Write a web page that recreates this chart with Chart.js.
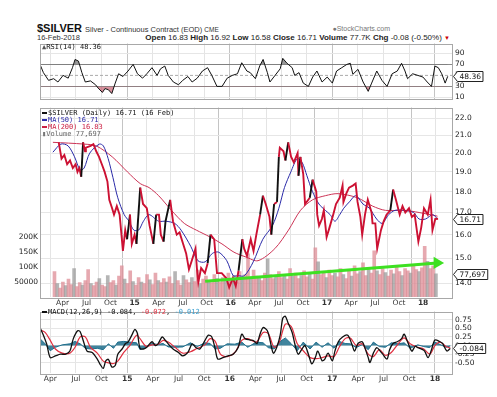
<!DOCTYPE html>
<html>
<head>
<meta charset="utf-8">
<script src="https://cdn.jsdelivr.net/npm/chart.js@4.4.1/dist/chart.umd.min.js"></script>
<style>
  body { margin:0; background:#fff; width:497px; height:397px; position:relative; overflow:hidden; }
  canvas { position:absolute; left:0; }
  .t { position:absolute; white-space:nowrap; color:#111; }
  .lg { position:absolute; white-space:nowrap; font:7px "DejaVu Sans Mono", monospace; color:#111; line-height:7px; }
  .sw { display:inline-block; width:5px; height:2px; vertical-align:middle; margin-right:1px; }
</style>
</head>
<body>
<div class="t" style="left:37px;top:22px;font:bold 11px 'Liberation Sans',Arial">$SILVER <span style="font:normal 7.5px 'Liberation Sans',Arial;color:#333">Silver - Continuous Contract (EOD) <span style="font-size:6.5px">CME</span></span></div>
<div class="t" style="left:37px;top:33px;font:7.5px 'Liberation Sans',Arial;color:#333">16-Feb-2018</div>
<div class="t" style="right:107px;top:25px;font:7px 'Liberation Sans',Arial;color:#777">&#9679;StockCharts.com</div>
<div class="t" style="right:47px;top:33px;font:8px 'Liberation Sans',Arial;color:#222"><b>Open</b> 16.83 <b>High</b> 16.92 <b>Low</b> 16.58 <b>Close</b> 16.71 <b>Volume</b> 77.7K <b>Chg</b> -0.08 (-0.50%) <span style="color:#c00;font-size:6px">&#9660;</span></div>

<canvas id="rsi" width="497" height="70" style="top:36px"></canvas>
<canvas id="main" width="497" height="212" style="top:100px"></canvas>
<canvas id="macd" width="497" height="93" style="top:304px"></canvas>

<div class="lg" style="left:42px;top:44px"><span style="color:#555">&#9650;</span>RSI(14) 48.36</div>
<div class="lg" style="left:42px;top:110px"><span class="sw" style="background:#111"></span>$SILVER (Daily) 16.71 (16 Feb)</div>
<div class="lg" style="left:42px;top:117px;color:#2a2aa8"><span class="sw" style="background:#2a2aa8"></span>MA(50) 16.71</div>
<div class="lg" style="left:42px;top:124px;color:#cc2244"><span class="sw" style="background:#cc2244"></span>MA(200) 16.83</div>
<div class="lg" style="left:42px;top:131px;color:#666"><span style="color:#777">&#9646;</span>Volume 77,697</div>
<div class="lg" style="left:42px;top:309px"><span class="sw" style="background:#111"></span>MACD(12,26,9) -0.084, <span style="color:#e03040">-0.072</span>, <span style="color:#3aa0d0">-0.012</span></div>

<script>
// ---- dados (eixo x em meses desde jan/2014) ----
const xMin = 1.8, xMax = 50;
const quarterTicks = [3,6,9,12,15,18,21,24,27,30,33,36,39,42,45,48];
const monthNames = {3:'Apr', 6:'Jul', 9:'Oct'};

const priceX = [2.53,2.88,3.23,3.58,3.94,4.29,4.64,4.87,5.10,5.34,5.57,5.81,5.92,6.51,6.86,7.21,7.56,7.91,8.26,8.61,
  8.84,9.19,9.43,9.78,10.13,10.36,10.54,10.83,11.06,11.42,11.65,12.00,12.23,12.70,13.05,13.52,13.87,14.34,14.69,15.04,
  15.27,15.62,15.86,16.44,16.79,17.26,17.61,17.96,18.43,18.78,19.13,19.60,19.77,19.95,20.30,20.77,21.12,21.47,21.93,22.28,
  22.87,23.45,23.80,24.27,24.62,24.97,25.44,25.67,26.02,26.49,26.84,27.19,27.66,28.01,28.36,28.83,29.06,29.41,29.77,30.00,
  30.12,30.58,30.82,31.17,31.52,31.87,32.34,32.45,32.69,33.04,33.27,33.86,34.21,34.67,34.79,35.02,35.37,35.61,35.96,36.31,
  36.78,37.13,37.60,37.95,38.06,38.41,38.76,39.23,39.58,39.82,40.17,40.40,40.75,41.10,41.57,41.69,42.04,42.27,42.74,43.09,
  43.44,43.91,44.26,44.61,45.08,45.43,45.78,46.24,46.60,46.95,47.41,47.76,48.11,48.58,48.93,49.17,49.52,49.87];
const priceY = [20.6,19.7,19.9,19.4,19.6,19.2,19.4,19.0,19.2,18.75,20.6,20.1,20.3,20.4,20.5,20.1,19.8,19.4,19.0,18.5,
  17.6,17.2,16.9,17.3,16.9,16.0,15.3,16.2,15.8,16.9,15.6,16.0,15.6,18.2,17.4,17.2,16.4,15.6,16.9,16.9,
  16.0,15.7,16.6,17.6,16.6,16.0,16.1,15.7,15.2,14.55,14.9,15.4,14.6,14.05,14.6,14.4,14.8,16.0,15.8,14.4,
  14.4,14.2,13.85,14.2,13.9,14.5,15.8,15.4,15.1,15.8,15.3,16.0,16.9,17.8,17.4,16.8,16.0,17.4,17.5,19.8,
  20.3,20.1,19.6,20.6,19.8,19.5,20.0,18.8,19.8,18.9,17.4,17.7,18.6,18.0,16.9,16.4,16.7,17.1,15.9,16.3,
  16.9,17.4,17.7,18.3,17.5,17.9,18.2,18.3,18.4,17.5,16.8,16.0,16.9,17.6,17.0,16.5,16.5,15.4,16.2,16.6,
  16.9,17.1,18.1,17.6,16.9,17.3,17.0,17.2,16.8,16.9,15.7,16.3,17.2,16.9,17.6,16.2,16.7,16.71];

const ma50X = [1.8,2.8,3.7,4.5,5.2,5.7,6.4,7.6,8.1,8.7,9.3,9.9,10.7,11.3,11.9,12.5,13.1,13.8,15.0,15.9,
  17.0,17.8,19.0,19.9,20.8,21.7,22.5,23.5,24.3,24.9,25.7,26.8,28.0,29.2,30.0,30.7,31.5,32.3,32.9,33.5,
  34.2,35.0,35.8,36.4,37.0,37.6,38.1,38.8,39.6,40.5,41.3,42.2,42.9,43.7,44.5,45.7,46.8,47.5,48.3,49.2,49.8];
const ma50Val = [20.05,20.5,20.4,19.8,19.1,19.2,20.0,20.5,20.4,19.7,18.7,17.7,16.9,16.6,16.2,16.2,16.6,16.9,16.6,16.6,
  16.5,16.2,15.5,14.9,14.85,15.2,15.25,14.9,14.3,14.3,14.3,14.85,15.8,16.4,17.2,18.2,19.0,19.7,19.5,18.8,
  18.0,17.4,17.1,16.9,16.6,16.9,17.2,17.5,17.8,17.4,17.2,16.7,16.5,16.9,17.1,17.1,17.0,16.7,16.7,16.9,16.71];

const ma200X = [1.8,5.7,7.2,9.2,11.1,12.7,13.8,15.0,16.6,18.2,19.7,21.4,22.9,24.4,25.9,27.4,29.5,31.2,32.7,34.2,35.8,37.4,39.8,41.7,43.3,45.7,47.5,49.8];
const ma200Val = [20.6,20.5,20.4,19.8,19.0,18.4,18.2,17.8,17.1,16.5,16.2,15.9,15.6,15.25,15.05,14.9,15.4,16.2,17.1,17.6,17.8,17.9,17.7,17.3,17.1,17.1,17.0,16.83];

// volume em milhares, um valor a cada ~1,5 semana desde o início
const volStart = 2.0, volStep = 0.35;
const volume = [85,45,30,50,38,60,42,95,35,48,40,55,92,45,38,50,62,40,35,72,
  48,55,40,70,105,60,45,88,52,40,65,50,45,75,58,42,80,55,48,62,
  50,68,45,85,55,40,72,58,48,65,52,90,45,60,70,55,48,75,62,50,
  65,55,80,60,72,50,85,68,75,145,60,90,70,65,55,80,128,75,62,70,
  85,65,75,60,95,70,80,62,72,88,68,78,60,165,118,75,85,65,90,72,
  80,68,95,75,62,88,70,105,78,85,115,72,92,80,155,88,75,95,82,70,
  90,78,100,85,72,95,88,80,110,92,85,98,170,120,95,105,78];

const trendX = [20.8, 49.75];
const trendY = [14.08, 14.81];

const rsiX = [1.8,2.2,2.8,3.4,3.9,4.5,5.1,5.6,5.9,6.3,6.7,7.1,7.7,8.3,8.6,9.1,9.4,9.8,10.2,10.6,
  11.0,11.5,12.1,12.7,13.2,13.8,14.3,14.9,15.5,15.9,16.4,16.8,17.4,18.0,18.5,19.1,19.6,20.2,20.8,21.4,
  21.9,22.5,23.1,23.7,24.3,24.9,25.4,26.0,26.4,27.0,27.5,27.9,28.4,28.7,29.3,29.9,30.2,30.7,31.3,31.6,
  32.1,32.6,33.2,33.7,34.2,34.8,35.4,36.0,36.5,37.1,37.7,38.1,38.4,39.0,39.6,40.2,40.6,41.2,41.8,42.4,
  43.0,43.6,44.1,44.5,44.8,45.4,46.0,46.6,47.1,47.6,48.0,48.4,48.8,49.2,49.5];
const rsiVal = [70,55,41,44,38,50,45,64,79,76,55,38,40,33,27,19,26,24,17,36,
  53,48,58,70,53,45,53,64,50,62,67,50,38,33,41,48,38,45,58,64,
  50,30,30,45,50,53,73,58,55,44,67,79,55,38,50,62,81,72,64,50,
  55,36,30,47,58,38,47,36,58,64,70,72,52,61,38,21,36,58,41,30,
  53,58,72,58,44,53,50,47,38,30,67,64,53,36,48.36];
const rsiTicks = [10,30,50,70,90];

const macdX = [1.8,2.2,2.6,3.0,3.6,4.2,4.8,5.3,5.7,6.2,6.5,6.9,7.3,7.9,8.5,8.8,9.2,9.5,9.8,10.2,
  10.6,10.9,11.4,11.8,12.1,12.6,12.9,13.2,13.5,13.9,14.3,14.9,15.3,15.6,16.1,16.4,16.8,17.4,18.0,18.5,
  19.1,19.6,20.0,20.5,21.1,21.5,21.9,22.3,22.6,23.2,23.8,24.4,25.0,25.4,25.8,26.4,26.8,27.2,27.5,27.9,
  28.4,28.7,29.1,29.5,29.9,30.2,30.5,30.8,31.3,31.6,32.0,32.5,32.8,33.2,33.6,34.0,34.3,34.8,35.1,35.5,
  36.0,36.3,36.7,37.2,37.8,38.3,38.6,39.0,39.5,39.8,40.2,40.4,40.8,41.2,41.6,41.9,42.4,42.7,43.1,43.6,
  44.1,44.4,44.8,45.3,45.7,46.0,46.5,46.8,47.2,47.6,48.0,48.6,48.9,49.4,49.8];
const macdVal = [0.52,0.3,0.03,-0.35,-0.3,-0.25,-0.25,-0.16,0.2,0.43,0.4,0.11,-0.16,-0.2,-0.39,-0.53,-0.66,-0.44,-0.4,-0.62,
  -0.58,-0.25,-0.1,0.06,0.1,0.33,0.47,0.35,-0.08,-0.1,-0.05,0.11,0.0,0.05,0.25,0.17,0.05,-0.11,-0.2,-0.3,
  -0.2,0.05,-0.05,-0.1,0.15,0.3,0.25,-0.1,-0.39,-0.35,-0.3,-0.25,-0.05,0.33,0.2,0.16,0.14,0.06,0.3,0.52,
  0.43,0.16,-0.22,-0.05,0.3,0.79,0.85,0.67,0.38,0.06,-0.25,-0.08,0.0,-0.25,-0.53,-0.35,-0.16,-0.44,-0.4,-0.22,
  -0.44,-0.16,0.11,0.25,0.3,0.03,-0.16,0.06,0.11,-0.06,-0.35,-0.49,-0.22,-0.06,-0.16,-0.25,-0.39,-0.12,0.06,0.11,
  0.2,0.33,0.11,-0.16,-0.02,-0.06,-0.11,-0.16,-0.35,-0.12,0.16,0.11,0.06,-0.16,-0.084];

const sigX = [1.8,2.4,3.0,3.6,4.4,5.3,5.9,6.5,7.1,7.7,8.5,9.2,9.8,10.4,10.9,11.6,12.3,13.1,13.5,14.2,
  14.9,15.6,16.2,16.8,17.6,18.5,19.4,20.2,21.1,21.7,22.3,22.9,23.7,24.6,25.4,26.1,27.1,27.9,28.5,29.2,
  29.8,30.5,31.2,31.9,32.6,33.4,34.1,34.8,35.5,36.2,36.8,37.5,38.1,38.8,39.5,40.2,40.8,41.5,42.2,42.9,
  43.7,44.4,45.1,46.0,46.7,47.4,48.0,48.6,49.3,49.8];
const sigVal = [0.45,0.38,0.15,-0.1,-0.22,-0.22,-0.05,0.25,0.25,-0.05,-0.22,-0.45,-0.5,-0.52,-0.45,-0.2,0.0,0.3,0.2,-0.02,
  0.02,0.03,0.15,0.1,-0.05,-0.22,-0.18,-0.08,0.02,0.2,0.12,-0.25,-0.32,-0.2,0.15,0.2,0.1,0.38,0.35,-0.05,
  0.1,0.62,0.55,0.05,-0.15,-0.35,-0.38,-0.35,-0.3,-0.32,-0.05,0.2,0.22,0.0,0.05,-0.25,-0.32,-0.12,-0.28,-0.2,
  0.05,0.22,0.05,-0.05,-0.1,-0.25,0.0,0.1,-0.03,-0.072];
const histVal = [0.2,0.05,-0.15,-0.05,0.02,0.05,0.12,0.05,-0.08,-0.1,-0.08,-0.12,0.05,-0.08,0.1,0.12,0.1,0.08,-0.12,-0.05,
  0.06,0.03,0.06,-0.04,-0.05,-0.04,0.08,-0.03,0.08,0.06,-0.1,-0.08,0.05,0.04,0.1,-0.05,0.1,0.08,-0.06,-0.1,
  0.1,0.22,0.05,-0.15,0.1,-0.1,0.1,-0.05,0.08,-0.08,0.12,0.06,0.05,-0.06,0.03,-0.12,0.1,-0.03,-0.05,0.08,
  0.05,0.08,-0.08,0.02,-0.03,-0.06,0.1,0.03,-0.05,-0.012];
const macdTicks = [-0.5,-0.25,0,0.25,0.5,0.75];
const priceTicks = [14,14.5,15,15.5,16,16.5,17,17.5,18,18.5,19,19.5,20,20.5,21,21.5,22];
const volTicks = [50,100,150,200];

// ---- helpers ----
const pts = (xs, ys) => xs.map((x, i) => ({x: x, y: ys[i]}));
const tickFont = {family: 'DejaVu Sans', size: 7.5};

function xAxis(h) {
  return {
    type: 'linear', min: xMin, max: xMax,
    afterBuildTicks: s => { s.ticks = quarterTicks.map(v => ({value: v})); },
    afterFit: s => { s.height = h; },
    grid: { drawTicks: false, color: c => (c.tick && c.tick.value % 12 === 0) ? '#c4c4c4' : '#e4e4e4' },
    border: { display: false },
    ticks: {
      display: h > 0, padding: 2, maxRotation: 0, autoSkip: false, color: '#333',
      font: c => ({family: 'DejaVu Sans', size: 7.5, weight: (c.tick && c.tick.value % 12 === 0) ? 'bold' : 'normal'}),
      callback: v => v % 12 === 0 ? String(14 + v / 12) : monthNames[v % 12]
    }
  };
}

function rightAxis(min, max, ticks, fmt, extra) {
  return Object.assign({
    position: 'right', min: min, max: max,
    afterBuildTicks: s => { s.ticks = ticks.map(v => ({value: v})); },
    afterFit: s => { s.width = 45; },
    grid: { drawTicks: false, color: '#e6e6e6' },
    border: { display: false },
    ticks: { padding: 3, color: '#222', font: tickFont, callback: fmt }
  }, extra || {});
}

// caixa com o último valor no eixo direito
const boxPlugin = {
  id: 'valBox',
  afterDraw(chart, args, opts) {
    const ctx = chart.ctx;
    (opts.items || []).forEach(it => {
      const y = Math.round(chart.scales[it.axis].getPixelForValue(it.value)) + 0.5;
      const x = chart.chartArea.right + 1.5;
      ctx.save();
      ctx.font = '7.5px "DejaVu Sans"';
      const w = ctx.measureText(it.text).width + 4;
      ctx.beginPath();
      ctx.moveTo(x, y);
      ctx.lineTo(x + 4, y - 5);
      ctx.lineTo(x + 4 + w, y - 5);
      ctx.lineTo(x + 4 + w, y + 5);
      ctx.lineTo(x + 4, y + 5);
      ctx.closePath();
      ctx.fillStyle = '#fff'; ctx.fill();
      ctx.strokeStyle = '#222'; ctx.lineWidth = 1; ctx.stroke();
      ctx.fillStyle = '#111'; ctx.textBaseline = 'middle';
      ctx.fillText(it.text, x + 6, y + 0.5);
      ctx.restore();
    });
  }
};

// moldura do painel
const framePlugin = {
  id: 'frame',
  afterDatasetsDraw(chart) {
    const a = chart.chartArea, ctx = chart.ctx;
    ctx.save();
    ctx.strokeStyle = '#a8a8a8'; ctx.lineWidth = 1;
    ctx.strokeRect(Math.round(a.left) + 0.5, Math.round(a.top) + 0.5, Math.round(a.right - a.left), Math.round(a.bottom - a.top));
    ctx.restore();
  }
};

const common = {
  responsive: false, animation: false, devicePixelRatio: 1,
  plugins: { legend: { display: false }, tooltip: { enabled: false } }
};

// ---- RSI ----
new Chart(document.getElementById('rsi'), {
  type: 'line',
  data: { datasets: [
    { data: pts(rsiX, rsiVal), borderColor: '#111', borderWidth: 1, pointRadius: 0, tension: 0,
      fill: { target: { value: 70 }, above: 'rgba(70,70,70,0.55)', below: 'rgba(0,0,0,0)' } },
    { data: pts(rsiX, rsiVal), borderWidth: 0, borderColor: 'rgba(0,0,0,0)', pointRadius: 0, tension: 0,
      fill: { target: { value: 30 }, above: 'rgba(0,0,0,0)', below: 'rgba(190,70,90,0.6)' } },
    { data: pts([xMin, xMax], [50, 50]), borderColor: '#aaa', borderWidth: 1, borderDash: [3, 2], pointRadius: 0 }
  ]},
  options: Object.assign({}, common, {
    layout: { padding: { left: 40, top: 5, bottom: 7, right: 0 } },
    scales: {
      x: xAxis(0),
      y: rightAxis(8, 108, rsiTicks, v => String(v), {
        grid: { drawTicks: false, color: c => (c.tick && (c.tick.value === 70 || c.tick.value === 30)) ? '#8a8a8a' : (c.tick && c.tick.value === 50 ? 'rgba(0,0,0,0)' : '#e6e6e6') }
      })
    },
    plugins: Object.assign({}, common.plugins, { valBox: { items: [{ axis: 'y', value: 48.36, text: '48.36' }] } })
  }),
  plugins: [framePlugin, boxPlugin]
});

// ---- preço + volume ----
new Chart(document.getElementById('main'), {
  type: 'line',
  data: { datasets: [
    { data: pts(trendX, trendY), borderColor: '#3ee022', backgroundColor: '#3ee022', borderWidth: 3,
      pointRadius: [0, 4], pointStyle: 'triangle', rotation: 90, order: 0 },
    { data: pts(priceX, priceY), borderWidth: 1.9, pointRadius: 0, tension: 0, order: 1, borderColor: '#cc1133',
      segment: { borderColor: c => (c.p1.parsed.y - c.p0.parsed.y > 0.9) ? '#111' : '#cc1133' } },
    { data: pts(ma50X, ma50Val), borderColor: '#2a2aa8', borderWidth: 1, pointRadius: 0, tension: 0.3, order: 2 },
    { data: pts(ma200X, ma200Val), borderColor: '#cc3355', borderWidth: 1, pointRadius: 0, tension: 0.3, order: 3 },
    { type: 'bar', yAxisID: 'yv', order: 10, barThickness: 3,
      data: volume.map((v, i) => ({ x: volStart + i * volStep, y: v })),
      backgroundColor: c => c.dataIndex % 3 === 1 ? 'rgba(150,150,150,0.7)' : 'rgba(222,140,150,0.75)' }
  ]},
  options: Object.assign({}, common, {
    layout: { padding: { left: 0, top: 3, bottom: 0, right: 0 } },
    scales: {
      x: xAxis(15),
      y: rightAxis(13.49, 22.66, priceTicks, v => Number(v).toFixed(1), { type: 'logarithmic' }),
      yv: {
        position: 'left', min: 0, max: 636,
        afterBuildTicks: s => { s.ticks = volTicks.map(v => ({value: v})); },
        afterFit: s => { s.width = 40; },
        grid: { drawOnChartArea: false, drawTicks: false },
        border: { display: false },
        ticks: { padding: 2, color: '#222', font: tickFont, callback: v => v === 50 ? '50000' : v + 'K' }
      }
    },
    plugins: Object.assign({}, common.plugins, { valBox: { items: [
      { axis: 'y', value: 16.71, text: '16.71' },
      { axis: 'yv', value: 77.7, text: '77,697' }
    ] } })
  }),
  plugins: [framePlugin, boxPlugin]
});

// ---- MACD ----
new Chart(document.getElementById('macd'), {
  type: 'line',
  data: { datasets: [
    { data: pts(macdX, macdVal), borderColor: '#111', borderWidth: 1.3, pointRadius: 0, tension: 0.3, order: 0 },
    { data: pts(sigX, sigVal), borderColor: '#e03040', borderWidth: 1.2, pointRadius: 0, tension: 0.3, order: 1 },
    { data: pts(sigX, histVal), borderColor: '#1f6e8c', borderWidth: 1, pointRadius: 0, tension: 0,
      fill: 'origin', backgroundColor: 'rgba(31,110,140,0.85)', order: 2 }
  ]},
  options: Object.assign({}, common, {
    layout: { padding: { left: 40, top: 4, bottom: 0, right: 0 } },
    scales: {
      x: xAxis(24),
      y: rightAxis(-0.795, 0.986, macdTicks, v => Number(v).toFixed(2))
    },
    plugins: Object.assign({}, common.plugins, { valBox: { items: [{ axis: 'y', value: -0.084, text: '-0.084' }] } })
  }),
  plugins: [framePlugin, boxPlugin]
});
</script>
</body>
</html>
